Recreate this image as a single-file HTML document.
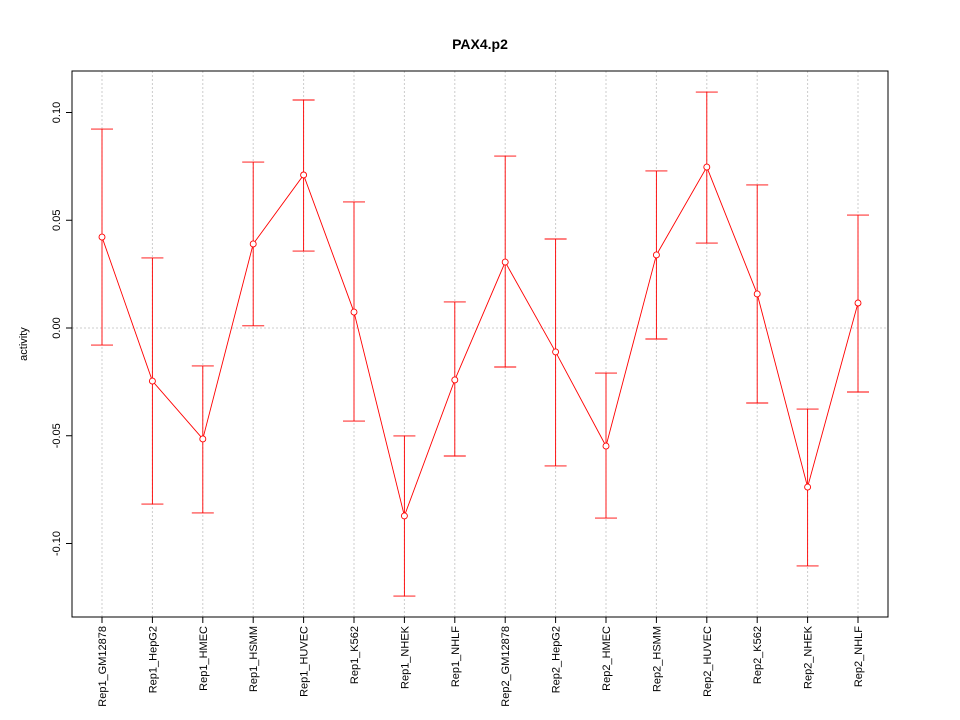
<!DOCTYPE html>
<html><head><meta charset="utf-8"><style>body{margin:0;background:#fff}svg{display:block}text{font-family:"Liberation Sans",Arial,sans-serif}</style></head>
<body>
<svg id="chart" width="960" height="720"></svg>
<script>
const categories=["Rep1_GM12878","Rep1_HepG2","Rep1_HMEC","Rep1_HSMM","Rep1_HUVEC","Rep1_K562","Rep1_NHEK","Rep1_NHLF","Rep2_GM12878","Rep2_HepG2","Rep2_HMEC","Rep2_HSMM","Rep2_HUVEC","Rep2_K562","Rep2_NHEK","Rep2_NHLF"];
const values=[0.0422,-0.0246,-0.0515,0.039,0.071,0.0074,-0.0872,-0.0241,0.0306,-0.0111,-0.0548,0.0339,0.0747,0.0158,-0.0738,0.0116];
const upper=[0.0923,0.0325,-0.0176,0.077,0.1058,0.0585,-0.0501,0.0121,0.0798,0.0413,-0.0209,0.0729,0.1095,0.0664,-0.0376,0.0524];
const lower=[-0.0079,-0.0817,-0.0858,0.001,0.0357,-0.0432,-0.1244,-0.0594,-0.0181,-0.064,-0.0882,-0.0051,0.0394,-0.0348,-0.1104,-0.0297];
const yTicks=[-0.10,-0.05,0.00,0.05,0.10];
const yTickLabels=["-0.10","-0.05","0.00","0.05","0.10"];
const NS="http://www.w3.org/2000/svg",svg=document.getElementById('chart');
const L=72,R=888,T=71,B=617;
const x=i=>102+i*(858-102)/(categories.length-1);
const y=v=>328-v*2155;
function el(t,a,p){const e=document.createElementNS(NS,t);for(const k in a)e.setAttribute(k,a[k]);(p||svg).appendChild(e);return e;}
const grid=el('g',{});


categories.forEach((c,i)=>el('line',{x1:x(i),x2:x(i),y1:T,y2:B,stroke:'#ccc','stroke-dasharray':'2,2'},grid));
el('line',{x1:L,x2:R,y1:y(0),y2:y(0),stroke:'#ccc','stroke-dasharray':'2,2'},grid);
const frame=el('rect',{x:L,y:T,width:R-L,height:B-T,fill:'none',stroke:'#000'});


const title=el('text',{x:480,y:49,'text-anchor':'middle','font-size':14,'font-weight':'bold'});
title.textContent='PAX4.p2';


const yl=el('text',{transform:'translate(27,344) rotate(-90)','text-anchor':'middle','font-size':11});
yl.textContent='activity';


const ya=el('g',{});


yTicks.forEach((v,i)=>{el('line',{x1:L-6,x2:L,y1:y(v),y2:y(v),stroke:'#000'},ya);
const t=el('text',{transform:`translate(${L-12},${y(v)}) rotate(-90)`,'text-anchor':'middle','font-size':11},ya);t.textContent=yTickLabels[i];});
const xa=el('g',{});


categories.forEach((c,i)=>{el('line',{x1:x(i),x2:x(i),y1:B,y2:B+6,stroke:'#000'},xa);
const t=el('text',{transform:`translate(${x(i)+4},${B+9}) rotate(-90)`,'text-anchor':'end','font-size':11},xa);t.textContent=c;});
const s=el('g',{});


el('polyline',{points:values.map((v,i)=>x(i)+','+y(v)).join(' '),fill:'none',stroke:'#f00','stroke-width':0.9},s);
values.forEach((v,i)=>{
const g=el('g',{},s);


el('line',{x1:x(i),x2:x(i),y1:y(upper[i]),y2:y(lower[i]),stroke:'#f00','stroke-width':0.9},g);
el('line',{x1:x(i)-11,x2:x(i)+11,y1:y(upper[i]),y2:y(upper[i]),stroke:'#f00','stroke-width':0.9},g);
el('line',{x1:x(i)-11,x2:x(i)+11,y1:y(lower[i]),y2:y(lower[i]),stroke:'#f00','stroke-width':0.9},g);
const p=el('circle',{cx:x(i),cy:y(v),r:3,fill:'#fff',stroke:'#f00','stroke-width':0.9},g);


});
</script>
</body></html>
